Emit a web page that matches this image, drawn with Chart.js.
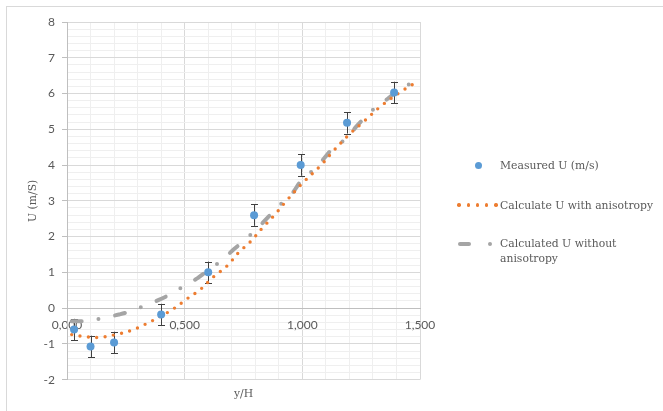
<!DOCTYPE html>
<html><head><meta charset="utf-8">
<script src="https://cdn.jsdelivr.net/npm/chart.js@4"></script>
<style>
html,body{margin:0;padding:0;background:#fff;width:663px;height:411px;overflow:hidden;}
#wrap{position:relative;width:663px;height:411px;}
#frame{position:absolute;left:6px;top:6px;width:700px;height:500px;border-left:1px solid #d9d9d9;border-top:1px solid #d9d9d9;}
canvas{position:absolute;left:0;top:0;}
.lg{position:absolute;font-family:"DejaVu Serif",serif;font-size:10.8px;color:#595959;line-height:15px;white-space:nowrap;}
.mk{position:absolute;}
</style></head>
<body><div id="wrap"><div id="frame"></div><canvas id="c" width="663" height="411"></canvas>
<div id="legend"></div></div>
<script>
// ---- data ----
const measuredX = [0.03, 0.10, 0.20, 0.40, 0.60, 0.795, 0.993, 1.19, 1.39];
const measuredU = [-0.60, -1.07, -0.96, -0.18, 1.00, 2.60, 4.00, 5.18, 6.03];
const measuredErr = [0.3, 0.3, 0.3, 0.3, 0.3, 0.3, 0.3, 0.3, 0.3];

const anisoX = [0.02, 0.08, 0.135, 0.20, 0.27, 0.33, 0.40, 0.45, 0.51, 0.57, 0.62, 0.68, 0.73, 0.78, 0.83, 0.88, 0.93, 1.00, 1.08, 1.13, 1.20, 1.26, 1.34, 1.43, 1.49];
const anisoU = [-0.74, -0.80, -0.82, -0.75, -0.63, -0.46, -0.22, -0.03, 0.26, 0.54, 0.86, 1.18, 1.56, 1.86, 2.24, 2.59, 2.98, 3.49, 4.00, 4.38, 4.86, 5.21, 5.68, 6.10, 6.33];

const noAnisoX = [0.02, 0.08, 0.15, 0.22, 0.27, 0.33, 0.39, 0.44, 0.50, 0.555, 0.60, 0.66, 0.71, 0.76, 0.81, 0.86, 0.90, 0.95, 1.00, 1.05, 1.09, 1.13, 1.19, 1.23, 1.28, 1.32, 1.36, 1.43, 1.49];
const noAnisoU = [-0.37, -0.36, -0.28, -0.18, -0.09, 0.07, 0.23, 0.39, 0.63, 0.84, 1.06, 1.35, 1.65, 1.93, 2.24, 2.58, 2.86, 3.15, 3.60, 3.88, 4.17, 4.47, 4.76, 5.08, 5.42, 5.66, 5.84, 6.19, 6.33];

const seriesNames = ['Measured U (m/s)', 'Calculate U with anisotropy', 'Calculated U without anisotropy'];
const xTitle = 'y/H';
const yTitle = 'U (m/S)';
const xMin = 0, xMax = 1.5, xMinor = 0.1, xMajor = 0.5;
const yMin = -2, yMax = 8, yMinor = 0.2, yMajor = 1;

// ---- helpers ----
const zip = (xs, ys) => xs.map((x, i) => ({x: x, y: ys[i]}));
const isMult = (v, m) => Math.abs(v / m - Math.round(v / m)) < 1e-6;
const GRID_MAJOR = '#d9d9d9', GRID_MINOR = '#efefef', AXIS = '#bfbfbf', TXT = '#595959';

const errorBars = {
  id: 'errorBars',
  beforeDatasetsDraw(chart) {
    const {ctx, scales: {x, y}} = chart;
    ctx.save();
    ctx.strokeStyle = '#404040';
    ctx.lineWidth = 1;
    measuredX.forEach((vx, i) => {
      const px = Math.round(x.getPixelForValue(vx)) + 0.5;
      const top = y.getPixelForValue(measuredU[i] + measuredErr[i]);
      const bot = y.getPixelForValue(measuredU[i] - measuredErr[i]);
      ctx.beginPath();
      ctx.moveTo(px, top); ctx.lineTo(px, bot);
      ctx.moveTo(px - 3.5, Math.round(top) + 0.5); ctx.lineTo(px + 3.5, Math.round(top) + 0.5);
      ctx.moveTo(px - 3.5, Math.round(bot) + 0.5); ctx.lineTo(px + 3.5, Math.round(bot) + 0.5);
      ctx.stroke();
    });
    ctx.restore();
  }
};

new Chart(document.getElementById('c'), {
  type: 'scatter',
  data: {
    datasets: [
      {label: seriesNames[0], data: zip(measuredX, measuredU), showLine: false,
       pointRadius: 4, pointHoverRadius: 4, pointBackgroundColor: '#5b9bd5', pointBorderColor: '#5b9bd5', pointBorderWidth: 0},
      {label: seriesNames[1], data: zip(anisoX, anisoU), showLine: true, pointRadius: 0,
       borderColor: '#ed7d31', borderWidth: 3.4, borderDash: [0, 8.4], borderCapStyle: 'round', tension: 0.35, fill: false},
      {label: seriesNames[2], data: zip(noAnisoX, noAnisoU), showLine: true, pointRadius: 0,
       borderColor: '#a5a5a5', borderWidth: 4, borderDash: [10, 17, 0, 17], borderCapStyle: 'round', tension: 0.35, fill: false}
    ]
  },
  options: {
    responsive: false, animation: false,
    layout: {padding: {left: 0, right: 243, top: 22, bottom: 4}},
    plugins: {legend: {display: false}, tooltip: {enabled: false}},
    scales: {
      x: {
        type: 'linear', position: {y: 0}, min: xMin, max: xMax,
        grid: {color: c => (c.tick && isMult(c.tick.value, xMajor)) ? GRID_MAJOR : GRID_MINOR, drawTicks: false, lineWidth: 1},
        border: {color: AXIS, width: 1},
        ticks: {stepSize: xMinor, autoSkip: false, maxRotation: 0, minRotation: 0, padding: 10,
          color: TXT, font: {family: 'Lato', size: 12},
          callback: v => isMult(v, xMajor) ? v.toFixed(3).replace('.', ',') : ''}
      },
      x2: {
        type: 'linear', position: 'bottom', min: xMin, max: xMax,
        grid: {display: false, drawTicks: false}, border: {display: false},
        ticks: {display: false},
        title: {display: true, text: xTitle, color: TXT, font: {family: 'DejaVu Serif', size: 10.8}, padding: {top: 8.5, bottom: 5.9}}
      },
      y: {
        type: 'linear', position: 'left', min: yMin, max: yMax,
        afterFit: s => { s.width = 67; },
        grid: {color: c => (c.tick && isMult(c.tick.value, yMajor)) ? GRID_MAJOR : GRID_MINOR,
               tickColor: c => (c.tick && isMult(c.tick.value, yMajor)) ? AXIS : 'rgba(0,0,0,0)', tickLength: 5, drawTicks: true},
        border: {color: AXIS, width: 1},
        ticks: {stepSize: yMinor, autoSkip: false, padding: 7, color: TXT, font: {family: 'Lato', size: 12},
          callback: v => isMult(v, yMajor) ? String(Math.round(v)) : ''},
        title: {display: true, text: yTitle, color: TXT, font: {family: 'DejaVu Serif', size: 10.8}, padding: {top: 26.5, bottom: 0}}
      }
    }
  },
  plugins: [errorBars]
});

// ---- legend (HTML) ----
const lg = document.getElementById('legend');
function add(html){ lg.insertAdjacentHTML('beforeend', html); }
add('<div class="mk" style="left:474.5px;top:161.5px;width:7px;height:7px;border-radius:50%;background:#5b9bd5"></div>');
add('<div class="lg" style="left:500px;top:157.5px">' + seriesNames[0] + '</div>');
[459, 468.3, 477.5, 486.8, 496].forEach(cx => add('<div class="mk" style="left:' + (cx - 1.7) + 'px;top:203.3px;width:3.4px;height:3.4px;border-radius:50%;background:#ed7d31"></div>'));
add('<div class="lg" style="left:500px;top:197.5px">' + seriesNames[1] + '</div>');
add('<div class="mk" style="left:458px;top:242px;width:13px;height:4px;border-radius:2px;background:#a5a5a5"></div>');
add('<div class="mk" style="left:488px;top:242px;width:4px;height:4px;border-radius:50%;background:#a5a5a5"></div>');
add('<div class="lg" style="left:500px;top:235.5px">Calculated U without<br>anisotropy</div>');
</script>
</body></html>
